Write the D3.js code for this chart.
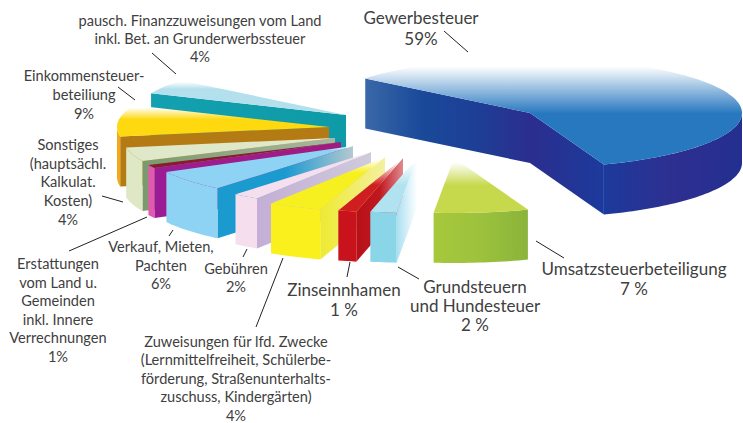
<!DOCTYPE html>
<html>
<head>
<meta charset="utf-8">
<script src="https://cdn.jsdelivr.net/npm/d3@7"></script>
<style>
  html, body { margin: 0; padding: 0; background: #fff; }
  text { font-family: Lato, "Open Sans", sans-serif; fill: #404040; text-anchor: middle; }
</style>
</head>
<body>
<div id="chart"></div>
<script>
// shares in percent, clockwise from the big slice
// printed labels are rounded, these are read from the slice angles
const categories = [
  "Gewerbesteuer",
  "Umsatzsteuerbeteiligung",
  "Grundsteuern und Hundesteuer",
  "Zinseinnhamen",
  "Zuweisungen für lfd. Zwecke",
  "Gebühren",
  "Verkauf, Mieten, Pachten",
  "Erstattungen",
  "Sonstiges",
  "Einkommensteuerbeteiligung",
  "pausch. Finanzzuweisungen",
];
const values = [58.5, 7.2, 2, 1.4, 4.1, 2, 6.1, 1, 4.1, 9.2, 4.4];

// how far each slice is pulled out of the pie, in px
const pullX = [0, -76, -113, -127, -145, -159, -177, -189, -195, -201, -184];
const pullY = [0, 45, 45, 45, 44, 39, 33, 29, 25, 14, 2];

// colours: top surface, where the top stops fading from white, outer face, cut face
const topColors = ["#2878c0", "#c6d94c", "#b0e2ef", "#d01e20", "#f7f020", "#f5dfee", "#8fd3f4", "#8a1a30", "#dfe8c8", "#ffd90f", "#b4e0ee"];
const topFade = [0.52, 0.5, 0.5, 0.5, 0.3, 0.1, 0.1, 0, 0.1, 0.45, 0.25];
const outerColors = [
  ["#1c3a9c", "#2e2f90", "#232f90"],
  ["#a6c83c", "#9cc23c", "#8ab43a"],
  ["#8ad6e8", "#8ad6e8"],
  ["#c8121c", "#c8121c"],
  ["#faf01e", "#faf01e"],
  ["#f5dfee", "#f5dfee"],
  ["#8fd3f4", "#8fd3f4"],
  ["#e25ab0", "#e25ab0"],
  ["#dfe8c4", "#dfe8c4"],
  ["#f4a81c", "#f4a81c"],
  ["#13a0b0", "#13a0b0"],
];
const edgeColors = [
  ["#3a68a8", "#1a4a9a", "#1d3f96", "#2b2e8e"],
  ["#8ab43a", "#8ab43a"],
  ["#a8dff0", "#ffffff"],
  ["#b81018", "#c01820", "#e08a90"],
  ["#eeea30", "#f4f0a0"],
  ["#c4aed6", "#cfcbdc"],
  ["#1b9ad0", "#1b9ad0", "#b5c8d0"],
  ["#9c1c96", "#a01c80"],
  ["#7b9a6c", "#a8b8a0"],
  ["#b47a14", "#b47a14"],
  ["#13a0b0", "#0e9aa6"],
];
const blueFrontEdge = ["#2b2e8e", "#1c3a9c"];

// label lines and percentages, as printed
const labels = [
  { x: 200, y: 26, size: 14.6, lines: ["pausch. Finanzzuweisungen vom Land", "inkl. Bet. an Grunderwerbssteuer", "4%"], step: 18 },
  { x: 84, y: 81, size: 14.6, lines: ["Einkommensteuer-", "beteiliung", "9%"], step: 19 },
  { x: 68, y: 150, size: 14.6, lines: ["Sonstiges", "(hauptsächl.", "Kalkulat.", "Kosten)", "4%"], step: 18.7 },
  { x: 161, y: 252, size: 14.6, lines: ["Verkauf, Mieten,", "Pachten", "6%"], step: 18.5 },
  { x: 236, y: 274, size: 14.6, lines: ["Gebühren", "2%"], step: 18 },
  { x: 58, y: 269, size: 14.6, lines: ["Erstattungen", "vom Land u.", "Gemeinden", "inkl. Innere", "Verrechnungen", "1%"], step: 18.6 },
  { x: 236, y: 347, size: 14.6, lines: ["Zuweisungen für lfd. Zwecke", "(Lernmittelfreiheit, Schülerbe-", "förderung, Straßenunterhalts-", "zuschuss, Kindergärten)", "4%"], step: 18.4 },
  { x: 344, y: 296, size: 17, lines: ["Zinseinnhamen", "1 %"], step: 19.5 },
  { x: 475, y: 293, size: 17, lines: ["Grundsteuern", "und Hundesteuer", "2 %"], step: 19 },
  { x: 634, y: 275, size: 17, lines: ["Umsatzsteuerbeteiligung", "7 %"], step: 20 },
  { x: 421, y: 24, size: 17, lines: ["Gewerbesteuer", "59%"], step: 21 },
];

// leader lines x1, y1, x2, y2
const leaders = [
  [152, 53, 176, 74],
  [118, 87, 135, 100],
  [102, 196, 123, 202],
  [69, 251, 147, 217],
  [169, 236, 173, 230],
  [243, 257, 247, 249],
  [256, 327, 283, 258],
  [347, 277, 350, 262],
  [398, 267, 419, 279],
  [536, 241, 564, 258],
  [444, 31, 468, 52],
];

const width = 743;
const height = 423;
const depth = 50; // thickness of the pie

const svg = d3
  .select("#chart")
  .append("svg")
  .attr("width", width)
  .attr("height", height)
  .style("display", "block");
const defs = svg.append("defs");

// flat ellipse, unit circle coordinates to pixels
const xPos = d3.scaleLinear().domain([-1, 1]).range([318, 742]);
const yPos = d3.scaleLinear().domain([-1, 1]).range([58, 168]);

const pie = d3
  .pie()
  .sort(null)
  .startAngle((-51 * Math.PI) / 180)
  .endAngle((309 * Math.PI) / 180);
const slices = pie(values);

const line = d3
  .line()
  .x((d) => d[0])
  .y((d) => d[1]);

function rimPoint(i, angle, r, z) {
  return [
    xPos(r * Math.sin(angle)) + pullX[i],
    yPos(-r * Math.cos(angle)) + pullY[i] + z,
  ];
}

function rim(i, a0, a1, z) {
  const n = Math.max(2, Math.ceil((a1 - a0) * 40));
  return d3.range(n + 1).map((k) => rimPoint(i, a0 + ((a1 - a0) * k) / n, 1, z));
}

function gradient(id, colors) {
  const g = defs
    .append("linearGradient")
    .attr("id", id)
    .attr("x1", 0)
    .attr("y1", 0)
    .attr("x2", 1)
    .attr("y2", 0);
  colors.forEach((c, k) => {
    g.append("stop")
      .attr("offset", k / (colors.length - 1))
      .attr("stop-color", c);
  });
  return `url(#${id})`;
}

function topGradient(i) {
  const g = defs
    .append("linearGradient")
    .attr("id", `top${i}`)
    .attr("x1", 0)
    .attr("y1", 0)
    .attr("x2", 0)
    .attr("y2", 1);
  const first = topFade[i] > 0 ? "#fff" : topColors[i];
  g.append("stop").attr("offset", topFade[i] * 0.15).attr("stop-color", first);
  g.append("stop").attr("offset", topFade[i]).attr("stop-color", topColors[i]);
  return `url(#top${i})`;
}

const shape = svg.append("g");

function drawSlice(d) {
  const i = d.index;
  const a0 = d.startAngle;
  const a1 = d.endAngle;
  const g = shape.append("g").attr("class", "slice").datum(d);
  const apexTop = rimPoint(i, 0, 0, 0);
  const apexBottom = rimPoint(i, 0, 0, depth);

  // cut face on the start side, seen when it turns to the viewer
  if (Math.cos(a0 - Math.PI / 2) < 0) {
    g.append("path")
      .attr("fill", gradient(`edge${i}`, edgeColors[i]))
      .attr("d", line([rimPoint(i, a0, 1, 0), apexTop, apexBottom, rimPoint(i, a0, 1, depth)]) + "Z");
  }
  // cut face on the end side
  if (Math.cos(a1 + Math.PI / 2) < 0) {
    g.append("path")
      .attr("fill", gradient(`edgeEnd${i}`, blueFrontEdge))
      .attr("d", line([apexTop, rimPoint(i, a1, 1, 0), rimPoint(i, a1, 1, depth), apexBottom]) + "Z");
  }
  // outer face, only the part between 90 and 270 degrees looks forward
  const from = Math.max(a0, Math.PI / 2);
  const to = Math.min(a1, (3 * Math.PI) / 2);
  if (to > from) {
    g.append("path")
      .attr("fill", gradient(`outer${i}`, outerColors[i]))
      .attr("d", line([...rim(i, from, to, 0), ...rim(i, from, to, depth).reverse()]) + "Z");
  }
  // top
  g.append("path")
    .attr("fill", topGradient(i))
    .attr("d", line([apexTop, ...rim(i, a0, a1, 0)]) + "Z");
}

// paint from the back: big slice, then round from the far left to the front
[slices[0], ...slices.slice(1).reverse()].forEach(drawSlice);

svg
  .append("g")
  .selectAll("line")
  .data(leaders)
  .join("line")
  .attr("x1", (d) => d[0])
  .attr("y1", (d) => d[1])
  .attr("x2", (d) => d[2])
  .attr("y2", (d) => d[3])
  .attr("stroke", "#222")
  .attr("stroke-width", 1);

svg
  .append("g")
  .selectAll("text")
  .data(labels)
  .join("text")
  .attr("font-size", (d) => d.size)
  .each(function (d) {
    d3.select(this)
      .selectAll("tspan")
      .data(d.lines)
      .join("tspan")
      .attr("x", d.x)
      .attr("y", (_, k) => d.y + k * d.step)
      .text((t) => t);
  });
</script>
</body>
</html>
